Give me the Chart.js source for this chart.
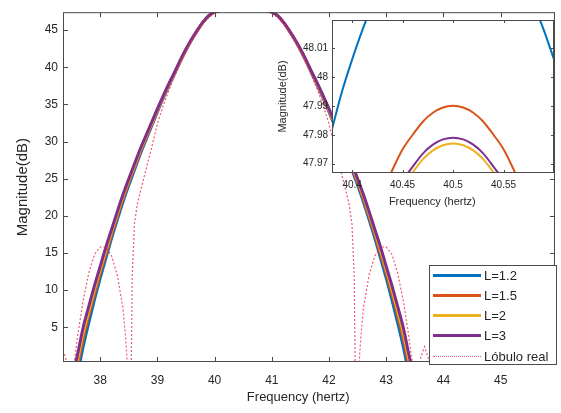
<!DOCTYPE html>
<html>
<head>
<meta charset="utf-8">
<script src="https://cdn.jsdelivr.net/npm/chart.js@4.4.1/dist/chart.umd.min.js"></script>
<style>
html,body{margin:0;padding:0;background:#fff;}
#wrap{position:relative;width:561px;height:413px;overflow:hidden;background:#fff;}
#main{position:absolute;left:0;top:0;}
#inset{position:absolute;left:260px;top:0;}
#legend{position:absolute;left:429px;top:265px;width:126px;height:98px;border:1px solid #4a4a4a;background:#fff;
  font-family:'Liberation Sans',Arial,sans-serif;font-size:13px;color:#262626;}
.row{position:absolute;left:3px;height:20px;display:flex;align-items:center;white-space:nowrap;}
.sw{display:inline-block;width:48px;height:0;margin-right:3px;}
</style>
</head>
<body>
<div id="wrap">
  <canvas id="main" width="561" height="413"></canvas>
  <canvas id="inset" width="301" height="220"></canvas>
  <div id="legend"></div>
</div>
<script>
// ---------------- data ----------------
const seriesLabels = ['L=1.2', 'L=1.5', 'L=2', 'L=3', 'Lóbulo real'];

// main plot: frequency grid (Hz) for the four L curves
const freqMain = [37.5,37.6,37.7,37.8,37.9,38.0,38.1,38.2,38.3,38.4,38.5,38.6,38.7,38.8,38.9,39.0,39.1,39.2,39.3,39.4,39.5,39.6,39.7,39.8,39.9,40.0,40.1,40.2,40.3,40.4,40.5,
  40.6,40.7,40.8,40.9,41.0,41.1,41.2,41.3,41.4,41.5,41.6,41.7,41.8,41.9,42.0,42.1,42.2,42.3,42.4,42.5,42.6,42.7,42.8,42.9,43.0,43.1,43.2,43.3,43.4,43.5];

const magL12 = [-5.00,-1.50,2.30,5.60,8.70,11.60,14.30,17.00,19.50,21.90,24.10,26.20,28.30,30.20,32.10,34.00,35.80,37.50,39.10,40.75,42.30,43.70,44.95,46.08,46.95,47.45,47.67,47.84,47.96,48.03,48.06,
  48.03,47.96,47.84,47.67,47.45,46.95,46.08,44.95,43.70,42.30,40.75,39.10,37.50,35.80,34.00,32.10,30.20,28.30,26.20,24.10,21.90,19.50,17.00,14.30,11.60,8.70,5.60,2.30,-1.50,-5.00];
const magL15 = [-3.80,-0.30,3.40,6.60,9.50,12.30,14.90,17.50,19.95,22.30,24.50,26.50,28.60,30.45,32.30,34.15,35.90,37.60,39.20,40.80,42.35,43.75,44.97,46.09,46.95,47.43,47.63,47.79,47.90,47.97,47.99,
  47.97,47.90,47.79,47.63,47.43,46.95,46.09,44.97,43.75,42.35,40.80,39.20,37.60,35.90,34.15,32.30,30.45,28.60,26.50,24.50,22.30,19.95,17.50,14.90,12.30,9.50,6.60,3.40,-0.30,-3.80];
const magL2 = [-2.80,0.50,4.20,7.20,10.10,12.80,15.40,17.90,20.30,22.65,24.80,26.80,28.80,30.65,32.45,34.30,36.00,37.70,39.25,40.85,42.38,43.78,44.99,46.10,46.95,47.42,47.62,47.78,47.89,47.955,47.977,
  47.955,47.89,47.78,47.62,47.42,46.95,46.10,44.99,43.78,42.38,40.85,39.25,37.70,36.00,34.30,32.45,30.65,28.80,26.80,24.80,22.65,20.30,17.90,15.40,12.80,10.10,7.20,4.20,0.50,-2.80];
const magL3 = [-2.00,1.20,4.90,7.80,10.60,13.20,15.80,18.20,20.60,22.90,25.00,27.00,29.00,30.80,32.60,34.40,36.10,37.80,39.35,40.95,42.45,43.80,45.00,46.10,46.95,47.42,47.62,47.78,47.89,47.96,47.98,
  47.96,47.89,47.78,47.62,47.42,46.95,46.10,45.00,43.80,42.45,40.95,39.35,37.80,36.10,34.40,32.60,30.80,29.00,27.00,25.00,22.90,20.60,18.20,15.80,13.20,10.60,7.80,4.90,1.20,-2.00];

// main plot: "Lóbulo real" (dotted)
const freqReal = [37.20,37.25,37.33,37.40,37.45,37.50,37.55,37.60,37.70,37.80,37.90,38.00,38.10,38.20,38.30,38.40,38.45,38.50,38.53,38.56,38.60,38.65,38.70,38.80,38.90,39.00,39.10,39.20,39.30,39.40,39.50,39.60,39.70,39.80,39.90,40.00,40.10,40.20,40.30,40.40,40.50,
  40.60,40.70,40.80,40.90,41.00,41.10,41.20,41.30,41.40,41.50,41.60,41.70,41.80,41.90,42.00,42.10,42.20,42.30,42.35,42.40,42.44,42.47,42.50,42.55,42.60,42.70,42.80,42.90,43.00,43.10,43.20,43.30,43.40,43.45,43.50,43.55,43.60,43.67,43.75,43.80];
const magReal = [-4,0.5,2.4,0.8,-3,-10,0.5,3.5,8.5,12.3,14.8,15.8,15.8,14.6,12.0,7.5,3.0,-3,-10,12,19.0,21.6,23.2,26.2,29.2,32.4,34.8,36.9,38.8,40.6,42.2,43.6,44.8,45.9,46.7,47.3,47.6,47.8,47.9,47.96,47.98,
  47.96,47.9,47.8,47.6,47.3,46.7,45.9,44.8,43.6,42.2,40.6,38.8,36.9,34.8,32.4,29.2,26.2,23.2,21.6,19.0,12,-10,-3,3.0,7.5,12.0,14.6,15.8,15.8,14.8,12.3,8.5,3.5,0.5,-10,-3,0.8,2.4,0.5,-4];

// inset (zoom on the peak)
const freqInset = [40.38,40.39,40.40,40.41,40.42,40.43,40.44,40.45,40.46,40.47,40.48,40.49,40.50,40.51,40.52,40.53,40.54,40.55,40.56,40.57,40.58,40.59,40.60];
const insetL12 = [47.982,47.995,48.006,48.016,48.025,48.034,48.041,48.047,48.051,48.055,48.058,48.060,48.060,48.060,48.058,48.055,48.051,48.047,48.041,48.034,48.025,48.016,48.006];
const insetL15 = [47.902,47.916,47.929,47.941,47.951,47.960,47.968,47.975,47.980,47.9845,47.9876,47.9894,47.990,47.9894,47.9876,47.9845,47.980,47.975,47.968,47.960,47.951,47.941,47.929];
const insetL2  = [47.889,47.903,47.916,47.928,47.938,47.947,47.955,47.962,47.967,47.9715,47.9746,47.9764,47.977,47.9764,47.9746,47.9715,47.967,47.962,47.955,47.947,47.938,47.928,47.916];
const insetL3  = [47.891,47.905,47.918,47.930,47.940,47.949,47.957,47.964,47.969,47.9735,47.9766,47.9784,47.979,47.9784,47.9766,47.9735,47.969,47.964,47.957,47.949,47.940,47.930,47.918];

// tick values / labels
const mainXTicks = [38, 39, 40, 41, 42, 43, 44, 45];
const mainYTicks = [5, 10, 15, 20, 25, 30, 35, 40, 45];
const insetXTicks = [40.4, 40.45, 40.5, 40.55];
const insetXLabels = ['40.4', '40.45', '40.5', '40.55'];
const insetYTicks = [47.97, 47.98, 47.99, 48, 48.01];
const insetYLabels = ['47.97', '47.98', '47.99', '48', '48.01'];

// ---------------- styling ----------------
const FONT = "'Liberation Sans', Arial, sans-serif";
const TXT = '#262626';
const colors = ['#0072BD', '#D95319', '#EDB120', '#7E2F8E', 'rgba(235,45,80,0.8)'];
// titles sit a little left of the axes centre in the reference (trailing spaces shift the centred text)
const padRight = n => '\u00A0'.repeat(n);

const pts = (xs, ys) => xs.map((x, i) => ({x: x, y: ys[i]}));

const boxTicks = {
  id: 'boxTicks',
  beforeDatasetsDraw(chart, args, opts) {
    if (!opts.fill) return;
    const a = chart.chartArea, ctx = chart.ctx;
    ctx.save(); ctx.fillStyle = '#ffffff';
    ctx.fillRect(a.left, a.top, a.right - a.left, a.bottom - a.top);
    ctx.restore();
  },
  afterDraw(chart, args, opts) {
    const ctx = chart.ctx, a = chart.chartArea, sx = chart.scales.x, sy = chart.scales.y;
    const len = opts.len;
    ctx.save();
    ctx.strokeStyle = opts.color; ctx.lineWidth = 1;
    ctx.beginPath();
    sx.ticks.forEach(t => {
      const px = Math.round(sx.getPixelForValue(t.value)) + 0.5;
      ctx.moveTo(px, a.bottom); ctx.lineTo(px, a.bottom - len);
      ctx.moveTo(px, a.top); ctx.lineTo(px, a.top + len);
    });
    sy.ticks.forEach(t => {
      const py = Math.round(sy.getPixelForValue(t.value)) + 0.5;
      ctx.moveTo(a.left, py); ctx.lineTo(a.left + len, py);
      ctx.moveTo(a.right, py); ctx.lineTo(a.right - len, py);
    });
    ctx.stroke();
    ctx.strokeRect(a.left + 0.5, a.top + 0.5, a.right - a.left - 1, a.bottom - a.top - 1);
    ctx.restore();
  }
};

function solid(label, xs, ys, color, order, width) {
  return {label, data: pts(xs, ys), borderColor: color, backgroundColor: color, borderWidth: width,
    pointRadius: 0, cubicInterpolationMode: 'monotone', order, fill: false};
}

// ---------------- main chart ----------------
const mainDatasets = [
  solid(seriesLabels[0], freqMain, magL12, colors[0], 5, 3),
  solid(seriesLabels[1], freqMain, magL15, colors[1], 4, 3),
  solid(seriesLabels[2], freqMain, magL2, colors[2], 3, 3),
  solid(seriesLabels[3], freqMain, magL3, colors[3], 2, 3),
  {label: seriesLabels[4], data: pts(freqReal, magReal), borderColor: colors[4], backgroundColor: colors[4],
   borderWidth: 1.2, borderDash: [2, 2], pointRadius: 0, tension: 0, order: 1, fill: false}
];

const mainChart = new Chart(document.getElementById('main'), {
  type: 'line',
  data: {datasets: mainDatasets},
  options: {
    responsive: false, animation: false, devicePixelRatio: 1,
    layout: {padding: {top: 10, right: 6, left: 0, bottom: 0}},
    plugins: {legend: {display: false}, tooltip: {enabled: false}, boxTicks: {len: 5, color: '#4a4a4a', fill: false}},
    scales: {
      x: {
        type: 'linear', min: 37.35, max: 45.95,
        afterBuildTicks: s => { s.ticks = mainXTicks.map(v => ({value: v})); },
        afterFit: s => { s.height = 51; },
        grid: {display: false, drawTicks: false}, border: {display: false},
        ticks: {font: {family: FONT, size: 12}, color: TXT, padding: 11, maxRotation: 0, autoSkip: false,
                callback: v => String(v)},
        title: {display: true, text: 'Frequency (hertz)' + padRight(6), font: {family: FONT, size: 13}, color: TXT,
                padding: {top: 0, bottom: 8}}
      },
      y: {
        type: 'linear', min: 0.32, max: 47.41,
        afterBuildTicks: s => { s.ticks = mainYTicks.map(v => ({value: v})); },
        afterFit: s => { s.width = 63; },
        grid: {display: false, drawTicks: false}, border: {display: false},
        ticks: {font: {family: FONT, size: 12}, color: TXT, padding: 5, autoSkip: false,
                callback: v => String(v)},
        title: {display: true, text: 'Magnitude(dB)', font: {family: FONT, size: 15}, color: TXT,
                padding: {top: 14, bottom: 0}}
      }
    }
  },
  plugins: [boxTicks]
});

// ---------------- inset chart ----------------
const insetChart = new Chart(document.getElementById('inset'), {
  type: 'line',
  data: {datasets: [
    solid(seriesLabels[0], freqInset, insetL12, colors[0], 4, 2),
    solid(seriesLabels[1], freqInset, insetL15, colors[1], 3, 2),
    solid(seriesLabels[2], freqInset, insetL2, colors[2], 2, 2),
    solid(seriesLabels[3], freqInset, insetL3, colors[3], 1, 2)
  ]},
  options: {
    responsive: false, animation: false, devicePixelRatio: 1,
    layout: {padding: {top: 20, right: 7, left: 0, bottom: 0}},
    plugins: {legend: {display: false}, tooltip: {enabled: false}, boxTicks: {len: 3, color: '#4a4a4a', fill: true}},
    scales: {
      x: {
        type: 'linear', min: 40.38, max: 40.6,
        afterBuildTicks: s => { s.ticks = insetXTicks.map(v => ({value: v})); },
        afterFit: s => { s.height = 47; },
        grid: {display: false, drawTicks: false}, border: {display: false},
        ticks: {font: {family: FONT, size: 10}, color: TXT, padding: 6, maxRotation: 0, autoSkip: false,
                callback: (v, i) => insetXLabels[i]},
        title: {display: true, text: 'Frequency (hertz)' + padRight(7), font: {family: FONT, size: 11}, color: TXT,
                padding: {top: 0, bottom: 11}}
      },
      y: {
        type: 'linear', min: 47.9668, max: 48.0196,
        afterBuildTicks: s => { s.ticks = insetYTicks.map(v => ({value: v})); },
        afterFit: s => { s.width = 72; },
        grid: {display: false, drawTicks: false}, border: {display: false},
        ticks: {font: {family: FONT, size: 10}, color: TXT, padding: 4, autoSkip: false,
                callback: (v, i) => insetYLabels[i]},
        title: {display: true, text: 'Magnitude(dB)', font: {family: FONT, size: 11}, color: TXT,
                padding: {top: 16, bottom: 0}}
      }
    }
  },
  plugins: [boxTicks]
});

// ---------------- legend (built from the main chart's datasets) ----------------
(function buildLegend(chart) {
  const box = document.getElementById('legend');
  const rowTops = [-1, 19, 39.5, 59.5, 80];
  chart.data.datasets.forEach((ds, i) => {
    const row = document.createElement('div');
    row.className = 'row';
    row.style.top = rowTops[i] + 'px';
    const sw = document.createElement('span');
    sw.className = 'sw';
    if (ds.borderDash) {
      sw.style.borderTop = '1.5px dotted ' + ds.borderColor;
    } else {
      sw.style.borderTop = ds.borderWidth + 'px solid ' + ds.borderColor;
    }
    const tx = document.createElement('span');
    tx.textContent = ds.label;
    row.appendChild(sw); row.appendChild(tx);
    box.appendChild(row);
  });
})(mainChart);
</script>
</body>
</html>
